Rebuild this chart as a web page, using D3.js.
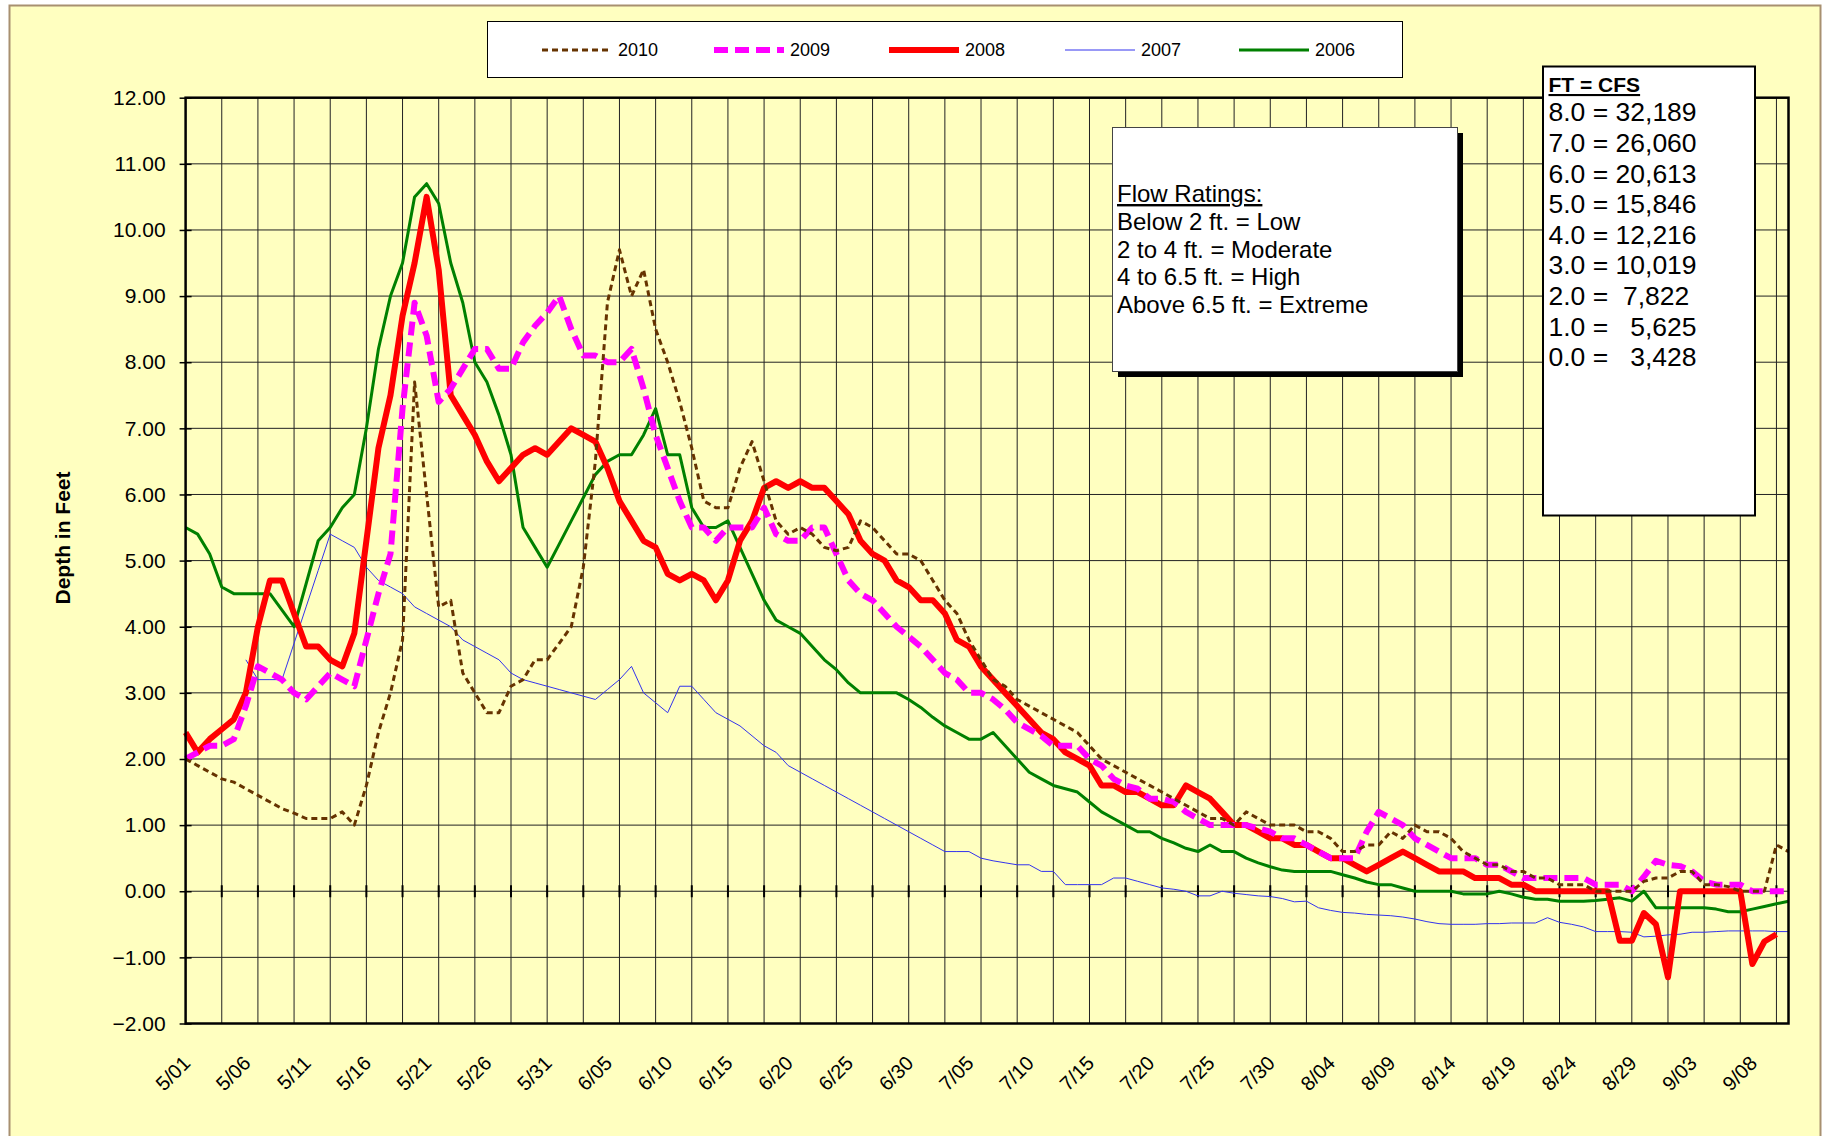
<!DOCTYPE html>
<html><head><meta charset="utf-8">
<script src="https://cdn.jsdelivr.net/npm/d3@7"></script>
<style>
body{margin:0;background:#fff;}
svg{display:block;font-family:Arial,"Liberation Sans",sans-serif;}
</style>
</head><body>
<svg id="chart" width="1827" height="1136"></svg>
<script>
// ---- categories (daily, May 1 – Sep 11) ----
const categories = d3.timeDay.range(new Date(2010,4,1), new Date(2010,8,12)).map(d3.timeFormat("%-m/%d"));
const tickLabels = ["5/01","5/06","5/11","5/16","5/21","5/26","5/31","6/05","6/10","6/15","6/20","6/25","6/30",
  "7/05","7/10","7/15","7/20","7/25","7/30","8/04","8/09","8/14","8/19","8/24","8/29","9/03","9/08"];
const yTicks = [-2,-1,0,1,2,3,4,5,6,7,8,9,10,11,12];

// ---- series values (depth in feet) ----
const s2010 = [2.0,1.9,1.8,1.7,1.65,1.55,1.45,1.35,1.25,1.18,1.1,1.1,1.1,1.2,1.0,1.6,2.4,3.0,3.8,7.7,
  6.0,4.3,4.4,3.3,3.0,2.7,2.7,3.1,3.2,3.5,3.5,3.75,4.0,4.9,6.5,8.9,9.7,9.0,9.4,8.5,
  8.0,7.4,6.7,5.9,5.8,5.8,6.4,6.8,6.2,5.6,5.4,5.5,5.4,5.2,5.15,5.2,5.6,5.5,5.3,5.1,
  5.1,5.0,4.7,4.4,4.2,3.8,3.5,3.2,3.1,2.9,2.8,2.7,2.6,2.5,2.4,2.2,2.0,1.9,1.8,1.7,
  1.6,1.5,1.4,1.3,1.2,1.1,1.1,1.0,1.2,1.1,1.0,1.0,1.0,0.9,0.9,0.8,0.6,0.6,0.7,0.7,
  0.9,0.8,1.0,0.9,0.9,0.8,0.6,0.5,0.4,0.4,0.3,0.3,0.2,0.2,0.1,0.1,0.1,0.0,0.0,0.0,
  0.0,0.15,0.2,0.2,0.3,0.3,0.1,0.1,0.07,0.0,0.0,0.0,0.7,0.6];
const s2009 = [2.0,2.1,2.2,2.2,2.3,2.8,3.4,3.3,3.2,3.0,2.9,3.1,3.3,3.2,3.1,3.8,4.5,5.1,7.3,8.9,
  8.4,7.4,7.6,7.9,8.2,8.2,7.9,7.9,8.3,8.55,8.75,9.0,8.5,8.1,8.1,8.0,8.0,8.2,7.6,6.9,
  6.4,5.9,5.5,5.5,5.3,5.5,5.5,5.5,5.8,5.4,5.3,5.3,5.5,5.5,5.1,4.7,4.5,4.4,4.2,4.0,
  3.85,3.7,3.5,3.3,3.2,3.0,3.0,2.9,2.75,2.55,2.45,2.35,2.2,2.2,2.2,2.0,1.9,1.7,1.6,1.55,
  1.4,1.4,1.35,1.2,1.1,1.0,1.0,1.0,1.0,0.95,0.9,0.8,0.8,0.7,0.6,0.5,0.5,0.5,0.9,1.2,
  1.1,1.0,0.8,0.7,0.6,0.5,0.5,0.5,0.4,0.4,0.3,0.2,0.2,0.2,0.2,0.2,0.2,0.1,0.1,0.1,
  0.0,0.22,0.46,0.4,0.38,0.3,0.15,0.1,0.1,0.1,0.0,0.0,0.0,0.0];
const s2008 = [2.4,2.1,2.3,2.45,2.6,3.0,4.0,4.7,4.7,4.2,3.7,3.7,3.5,3.4,3.9,5.3,6.7,7.5,8.7,9.5,
  10.5,9.4,7.5,7.2,6.9,6.5,6.2,6.4,6.6,6.7,6.6,6.8,7.0,6.9,6.8,6.4,5.9,5.6,5.3,5.2,
  4.8,4.7,4.8,4.7,4.4,4.7,5.3,5.6,6.1,6.2,6.1,6.2,6.1,6.1,5.9,5.7,5.3,5.1,5.0,4.7,
  4.6,4.4,4.4,4.2,3.8,3.7,3.4,3.2,3.0,2.8,2.6,2.4,2.3,2.1,2.0,1.9,1.6,1.6,1.5,1.5,
  1.4,1.3,1.3,1.6,1.5,1.4,1.2,1.0,1.0,0.9,0.8,0.8,0.7,0.7,0.6,0.5,0.5,0.4,0.3,0.4,
  0.5,0.6,0.5,0.4,0.3,0.3,0.3,0.2,0.2,0.2,0.1,0.1,0.0,0.0,0.0,0.0,0.0,0.0,0.0,-0.75,
  -0.75,-0.33,-0.5,-1.3,0.0,0.0,0.0,0.0,0.0,0.0,-1.1,-0.76,-0.65,null];
const s2007 = [null,null,null,null,null,3.5,3.2,3.2,3.2,3.75,4.3,4.85,5.4,5.3,5.2,4.9,4.7,4.6,4.5,4.3,
  4.2,4.1,4.0,3.8,3.7,3.6,3.5,3.3,3.2,3.15,3.1,3.05,3.0,2.95,2.9,3.05,3.2,3.4,3.0,2.85,
  2.7,3.1,3.1,2.9,2.7,2.6,2.5,2.35,2.2,2.1,1.9,1.8,1.7,1.6,1.5,1.4,1.3,1.2,1.1,1.0,
  0.9,0.8,0.7,0.6,0.6,0.6,0.5,0.46,0.43,0.4,0.4,0.3,0.3,0.1,0.1,0.1,0.1,0.2,0.2,0.15,
  0.1,0.05,0.03,0.0,-0.07,-0.07,0.0,-0.03,-0.05,-0.07,-0.08,-0.11,-0.16,-0.15,-0.25,-0.29,-0.32,-0.33,-0.35,-0.36,
  -0.37,-0.39,-0.42,-0.46,-0.49,-0.5,-0.5,-0.5,-0.49,-0.49,-0.48,-0.48,-0.48,-0.4,-0.47,-0.5,-0.54,-0.61,-0.61,-0.61,
  -0.62,-0.69,-0.68,-0.66,-0.65,-0.62,-0.62,-0.61,-0.6,-0.6,-0.6,-0.6,-0.61,-0.61];
const s2006 = [5.5,5.4,5.1,4.6,4.5,4.5,4.5,4.5,4.25,4.0,4.65,5.3,5.5,5.8,6.0,7.0,8.2,9.0,9.5,10.5,
  10.7,10.4,9.5,8.9,8.0,7.7,7.2,6.6,5.5,5.2,4.9,5.25,5.6,5.95,6.3,6.5,6.6,6.6,6.9,7.3,
  6.6,6.6,5.8,5.5,5.5,5.6,5.2,4.8,4.4,4.1,4.0,3.9,3.7,3.5,3.35,3.15,3.0,3.0,3.0,3.0,
  2.9,2.78,2.63,2.5,2.4,2.3,2.3,2.4,2.2,2.0,1.8,1.7,1.6,1.55,1.5,1.35,1.2,1.1,1.0,0.9,
  0.9,0.8,0.73,0.65,0.6,0.7,0.6,0.6,0.5,0.43,0.37,0.32,0.3,0.3,0.3,0.3,0.25,0.2,0.14,0.1,
  0.1,0.05,0.0,0.0,0.0,0.0,-0.04,-0.04,-0.04,0.0,-0.04,-0.09,-0.12,-0.12,-0.15,-0.15,-0.15,-0.14,-0.12,-0.1,
  -0.15,0.0,-0.25,-0.25,-0.25,-0.25,-0.25,-0.27,-0.31,-0.31,-0.27,-0.23,-0.19,-0.15];

const seriesNames = ["2010","2009","2008","2007","2006"];
const seriesValues = [s2010, s2009, s2008, s2007, s2006];

const flowLines = ["Below 2 ft. = Low","2 to 4 ft. = Moderate","4 to 6.5 ft. = High","Above 6.5 ft. = Extreme"];
const cfsLines = ["8.0 = 32,189","7.0 = 26,060","6.0 = 20,613","5.0 = 15,846","4.0 = 12,216","3.0 = 10,019","2.0 =  7,822","1.0 =   5,625","0.0 =   3,428"];

// ---- styles ----
const styles = {
  "2010": {color:"#663300", width:3, dash:"6,4"},
  "2009": {color:"#FF00FF", width:6, dash:"14,7"},
  "2008": {color:"#FF0000", width:6, dash:null},
  "2007": {color:"#3333EE", width:1, dash:null},
  "2006": {color:"#008000", width:3, dash:null}
};

const svg = d3.select("#chart");
const L = 185.6, R = 1788.5, T = 97.7, B = 1023.5;

// chart area
svg.append("rect").attr("x",9.5).attr("y",5.5).attr("width",1811).attr("height",1140)
  .attr("fill","#FFFFC0").attr("stroke","#A89070").attr("stroke-width",2);

const x = d3.scalePoint().domain(categories).range([L, R]);
const y = d3.scaleLinear().domain([-2, 12]).range([B, T]);

// gridlines
const grid = svg.append("g");
grid.selectAll("line.h").data(yTicks.filter(v => v > -2 && v < 12)).join("line")
  .attr("x1", L).attr("x2", R).attr("y1", d => y(d)).attr("y2", d => y(d))
  .attr("stroke", "#222").attr("stroke-width", 1);
grid.selectAll("line.v").data(categories.filter((c, i) => i % 3 === 0 && i > 0)).join("line")
  .attr("x1", d => x(d)).attr("x2", d => x(d)).attr("y1", T).attr("y2", B)
  .attr("stroke", "#222").attr("stroke-width", 1);

// tick marks on zero line
svg.append("g").selectAll("line").data(categories.filter((c, i) => i % 3 === 0 && i > 0)).join("line")
  .attr("x1", d => x(d)).attr("x2", d => x(d)).attr("y1", y(0) - 6).attr("y2", y(0) + 6)
  .attr("stroke", "#000").attr("stroke-width", 2);

// y axis
const yAxis = d3.axisLeft(y).tickValues(yTicks).tickFormat(d3.format(".2f")).tickSizeInner(6).tickSizeOuter(0).tickPadding(14);
const gy = svg.append("g").attr("transform", `translate(${L},0)`).call(yAxis);
gy.select(".domain").remove();
gy.selectAll(".tick line").attr("x1", -6).attr("x2", 6).attr("stroke", "#000").attr("stroke-width", 1.5);
gy.selectAll(".tick text").attr("font-size", 21).attr("fill", "#000").attr("font-family", "Arial, 'Liberation Sans', sans-serif");

// x labels
svg.append("g").selectAll("text").data(tickLabels).join("text")
  .attr("transform", d => `translate(${x(d) + 1},${B + 36}) rotate(-45)`)
  .attr("text-anchor", "end").attr("dy", "0.35em")
  .attr("font-size", 20).attr("fill", "#000").text(d => d);

// y title
svg.append("text").attr("transform", "translate(70,538) rotate(-90)")
  .attr("text-anchor", "middle").attr("font-weight", "bold").attr("font-size", 21).text("Depth in Feet");

// series lines
const line = d3.line().defined(d => d.v != null).x(d => x(d.c)).y(d => y(d.v));
const lines = svg.append("g");
seriesNames.slice().reverse().forEach(name => {
  const vals = seriesValues[seriesNames.indexOf(name)];
  const st = styles[name];
  lines.append("path")
    .datum(vals.map((v, i) => ({c: categories[i], v})))
    .attr("d", line).attr("fill", "none")
    .attr("stroke", st.color).attr("stroke-width", st.width)
    .attr("stroke-dasharray", st.dash).attr("stroke-linejoin", "round");
});

// plot frame
svg.append("rect").attr("x", L).attr("y", T).attr("width", R - L).attr("height", B - T)
  .attr("fill", "none").attr("stroke", "#000").attr("stroke-width", 2.5);

// legend
const lg = svg.append("g");
lg.append("rect").attr("x", 487.5).attr("y", 21.5).attr("width", 915).attr("height", 56)
  .attr("fill", "#fff").attr("stroke", "#000").attr("stroke-width", 1);
const legX = [542, 714, 889, 1065, 1239];
seriesNames.forEach((name, k) => {
  const st = styles[name];
  lg.append("line").attr("x1", legX[k]).attr("x2", legX[k] + 70).attr("y1", 50).attr("y2", 50)
    .attr("stroke", st.color).attr("stroke-width", st.width).attr("stroke-dasharray", st.dash);
  lg.append("text").attr("x", legX[k] + 76).attr("y", 50).attr("dy", "0.35em")
    .attr("font-size", 18).text(name);
});

// Flow ratings box
const fb = svg.append("g");
fb.append("rect").attr("x", 1118).attr("y", 133).attr("width", 345).attr("height", 244).attr("fill", "#000");
fb.append("rect").attr("x", 1112.5).attr("y", 127.5).attr("width", 345).attr("height", 244)
  .attr("fill", "#fff").attr("stroke", "#444").attr("stroke-width", 1);
fb.append("text").attr("x", 1117).attr("y", 202).attr("font-size", 24)
  .attr("text-decoration", "underline").text("Flow Ratings:");
fb.selectAll("text.fl").data(flowLines).join("text").attr("class", "fl")
  .attr("x", 1117).attr("y", (d, i) => 230 + i * 27.7).attr("font-size", 24).text(d => d);

// FT = CFS box
const cb = svg.append("g");
cb.append("rect").attr("x", 1543).attr("y", 66.5).attr("width", 212).attr("height", 449)
  .attr("fill", "#fff").attr("stroke", "#000").attr("stroke-width", 2);
cb.append("text").attr("x", 1548.5).attr("y", 92).attr("font-size", 21).attr("font-weight", "bold")
  .attr("text-decoration", "underline").text("FT = CFS");
cb.selectAll("text.cf").data(cfsLines).join("text").attr("class", "cf")
  .attr("x", 1548.5).attr("y", (d, i) => 121.3 + i * 30.6).attr("font-size", 26.5)
  .style("white-space", "pre").text(d => d);
</script>
</body></html>
